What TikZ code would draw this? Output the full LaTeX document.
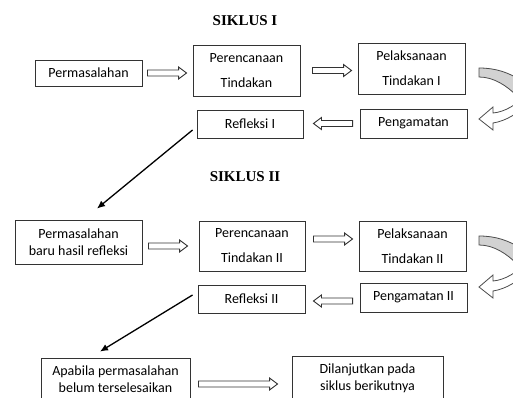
\documentclass[tikz,border=0pt]{standalone}
\usepackage{fontspec}
\setmainfont{Carlito}
\newfontfamily\titlefont{Liberation Serif}
\usetikzlibrary{arrows.meta,calc}

\tikzset{
  kotak/.style={draw=black!80, line width=0.9pt, fill=white, inner sep=0pt,
    align=center, font=\fontsize{14}{17}\selectfont},
  judul/.style={font=\titlefont\bfseries\fontsize{15}{18}\selectfont},
  panahkanan/.style={draw=black!80, line width=0.9pt, fill=white,
    to path={let \p1=(\tikztostart), \p2=(\tikztotarget) in
      (\x1,\y1+3pt) -- (\x2-8pt,\y1+3pt) -- (\x2-8pt,\y1+6pt) -- (\x2,\y1)
      -- (\x2-8pt,\y1-6pt) -- (\x2-8pt,\y1-3pt) -- (\x1,\y1-3pt) -- cycle}},
  panahkiri/.style={draw=black!80, line width=0.9pt, fill=white,
    to path={let \p1=(\tikztostart), \p2=(\tikztotarget) in
      (\x1,\y1+3pt) -- (\x2+8pt,\y1+3pt) -- (\x2+8pt,\y1+6pt) -- (\x2,\y1)
      -- (\x2+8pt,\y1-6pt) -- (\x2+8pt,\y1-3pt) -- (\x1,\y1-3pt) -- cycle}},
  panahmiring/.style={line width=1.3pt, -{Latex[length=8pt,width=7pt]}},
  lengkung/.style={draw=black!70, line width=0.8pt}
}

\begin{document}
\begin{tikzpicture}[x=1pt,y=-1pt]
		\useasboundingbox (0,0) rectangle (513,398);

		% siklus I
		\node[judul] (judul1) at (245,21) {SIKLUS I};
		\node[kotak, minimum width=107pt, minimum height=26pt] (perm) at (88.5,73) {Permasalahan};
		\node[kotak, minimum width=107pt, minimum height=51pt] (rencana1) at (246.5,70.5) {Perencanaan\\[8pt]Tindakan};
		\node[kotak, minimum width=107pt, minimum height=51pt] (laksana1) at (411.5,68.5) {Pelaksanaan\\[8pt]Tindakan I};
		\node[kotak, minimum width=106pt, minimum height=28pt] (refleksi1) at (250,124) {Refleksi I};
		\node[kotak, minimum width=107pt, minimum height=29pt] (amat1) at (413.5,123.5) {Pengamatan};

		\draw[panahkanan] ([xshift=5pt]perm.east) to ([xshift=-6pt]rencana1.west);
		\draw[panahkanan] ([xshift=12pt]rencana1.east) to ([xshift=-6pt]laksana1.west);
		\draw[panahkiri] ([xshift=-7pt]amat1.west) to ([xshift=10pt]refleksi1.east);

		% siklus II
		\node[judul] (judul2) at (245,177) {SIKLUS II};
		\node[kotak, minimum width=127pt, minimum height=44pt] (permbaru) at (78.5,242) {Permasalahan\\baru hasil refleksi};
		\node[kotak, minimum width=106pt, minimum height=50pt] (rencana2) at (252,246) {Perencanaan\\[8pt]Tindakan II};
		\node[kotak, minimum width=107pt, minimum height=50pt] (laksana2) at (412.5,246) {Pelaksanaan\\[8pt]Tindakan II};
		\node[kotak, minimum width=107pt, minimum height=28pt] (refleksi2) at (251.5,299) {Refleksi II};
		\node[kotak, minimum width=107pt, minimum height=29pt] (amat2) at (413.5,297.5) {Pengamatan II};

		\draw[panahkanan] ([xshift=6pt,yshift=-4pt]permbaru.east) to ([xshift=-11pt]rencana2.west);
		\draw[panahkanan] ([xshift=8pt,yshift=7pt]rencana2.east) to ([xshift=-6pt]laksana2.west);
		\draw[panahkiri] ([xshift=-7pt,yshift=-3.5pt]amat2.west) to ([xshift=8pt]refleksi2.east);

		% lanjutan
		\node[kotak, minimum width=149pt, minimum height=42pt] (apabila) at (115.5,379) {Apabila permasalahan\\belum terselesaikan};
		\node[kotak, minimum width=151pt, minimum height=44pt] (lanjut) at (367.5,378) {Dilanjutkan pada\\siklus berikutnya};
		\draw[panahkanan] ([xshift=8pt,yshift=-5pt]apabila.east) to ([xshift=-14pt]lanjut.west);

		\draw[panahmiring] ([xshift=-4pt,yshift=-6pt]refleksi1.west) -- ([xshift=18.5pt,yshift=11pt]permbaru.north);
		\draw[panahmiring] ([xshift=-5pt,yshift=4pt]refleksi2.west) -- ([xshift=-15.5pt,yshift=6pt]apabila.north);

		% panah lengkung
		\foreach \dy in {0,168}{
			\begin{scope}[shift={(0,\dy)}]
				\draw[lengkung, fill=gray!35] (479,68) .. controls (495,68) and (508,72) .. (522,81) -- (517,96) .. controls (507,86) and (494,77) .. (479,77) -- cycle;
				\draw[lengkung, fill=white] (526,94) .. controls (518,104) and (505,112) .. (493,113) -- (493,107) -- (479,119) -- (493,130) -- (493,123) .. controls (506,121) and (519,113) .. (529,102) -- cycle;
			\end{scope}
		}
\end{tikzpicture}
\end{document}
